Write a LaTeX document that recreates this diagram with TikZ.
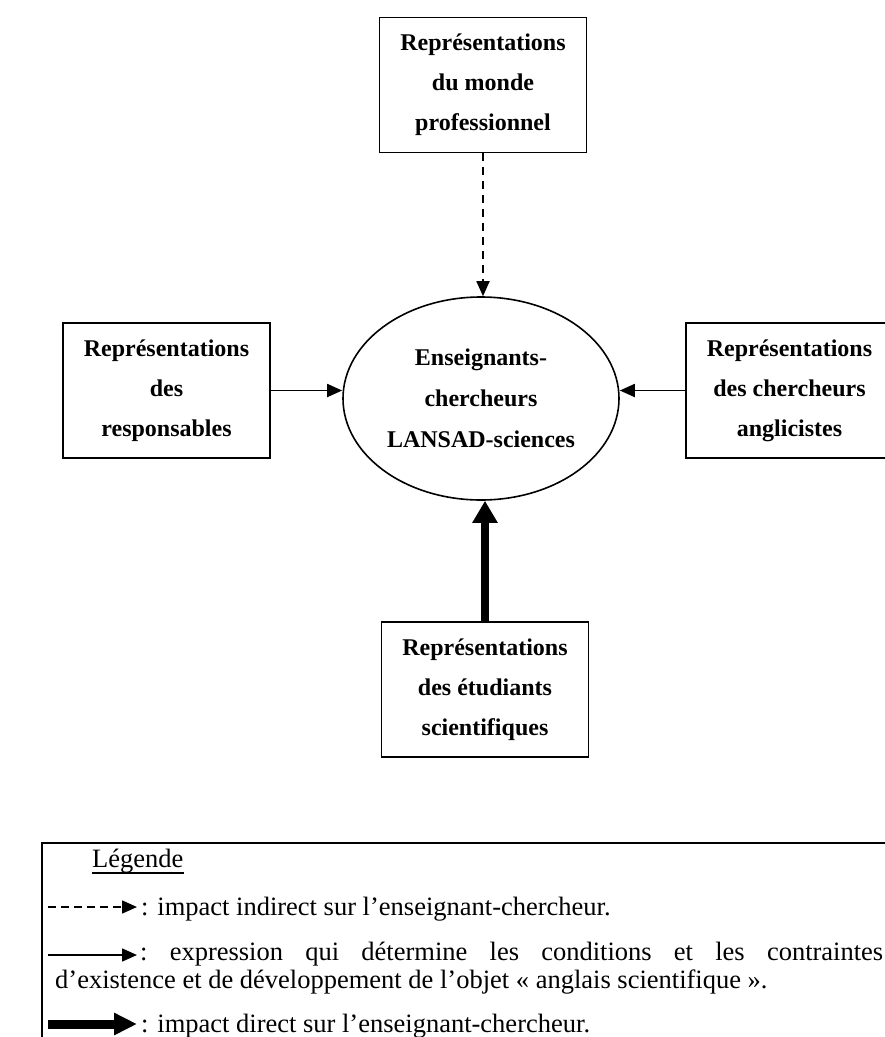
\documentclass[tikz,border=0pt]{standalone}
\usepackage{fontspec}
\setmainfont{Liberation Serif}
\usetikzlibrary{arrows.meta,shapes.geometric}
\tikzset{
  boxnode/.style={draw, line width=1.8pt, minimum width=207pt, minimum height=135pt, align=center, inner sep=0pt,
    font=\fontsize{24}{40}\selectfont\bfseries},
  ellnode/.style={draw, ellipse, line width=1.6pt, minimum width=276pt, minimum height=203pt, align=center, inner sep=0pt,
    font=\fontsize{24}{41}\selectfont\bfseries},
  thinarrow/.style={line width=1.8pt, -{Triangle[width=13pt,length=15pt]}},
  dasharrow/.style={thinarrow, dash pattern=on 8pt off 6pt},
  thickarrow/.style={line width=8pt, -{Triangle[width=24pt,length=22pt]}},
  legtext/.style={anchor=base west, inner sep=0pt, font=\fontsize{26.5}{30}\selectfont},
}
\begin{document}
\begin{tikzpicture}[x=1pt,y=-1pt]
\useasboundingbox (0,0) rectangle (885,1037);
\fill[white] (0,0) rectangle (885,1037);
\clip (0,0) rectangle (885,1037);

% nodes
\node[boxnode] (top) at (483,85) {Représentations\\du monde\\professionnel};
\node[boxnode] (left) at (166.5,390.5) {Représentations\\des\\responsables};
\node[boxnode, minimum width=215pt] (right) at (793.5,390.5) {\hspace*{-8pt}Représentations\\\hspace*{-8pt}des chercheurs\\\hspace*{-8pt}anglicistes};
\node[boxnode] (bottom) at (485,689.5) {Représentations\\des étudiants\\scientifiques};
\node[ellnode] (ell) at (481,398.5) {Enseignants-\\chercheurs\\LANSAD-sciences};

% connectors
\draw[dasharrow] (top.south) -- (top.south |- ell.north);
\draw[thinarrow] (left.east) -- (left.east -| ell.west);
\draw[thinarrow] (right.west) -- (right.west -| ell.east);
\draw[thickarrow] (bottom.north) -- (bottom.north |- ell.south);

% legend frame
\draw[line width=2pt] (42,843) rectangle (900,1060);

\node[legtext] (leg) at (92,867) {Légende};
\draw[line width=1.2pt] (leg.base west) ++(0,6) coordinate (u1) -- (u1 -| leg.east);

\coordinate (d1) at (48,907); \coordinate (d2) at (137,907);
\draw[line width=1.7pt, dash pattern=on 8pt off 5pt, -{Triangle[width=13pt,length=15pt]}] (d1) -- (d2);
\node[legtext] (t1) at (141,915) {: impact indirect sur l’enseignant-chercheur.};

\coordinate (s1) at (48,955); \coordinate (s2) at (137,955);
\draw[line width=1.7pt, -{Triangle[width=13pt,length=15pt]}] (s1) -- (s2);
\node[legtext] (t2) at (140,960) {\hbox to 743pt{:\hfill expression\hfill qui\hfill détermine\hfill les\hfill conditions\hfill et\hfill les\hfill contraintes}};
\node[legtext] (t3) at (55,988) {d’existence et de développement de l’objet « anglais scientifique ».};

\coordinate (k1) at (48,1024); \coordinate (k2) at (137,1024);
\draw[line width=9pt, -{Triangle[width=21pt,length=23pt]}] (k1) -- (k2);
\node[legtext] (t4) at (141,1032) {: impact direct sur l’enseignant-chercheur.};
\end{tikzpicture}
\end{document}
